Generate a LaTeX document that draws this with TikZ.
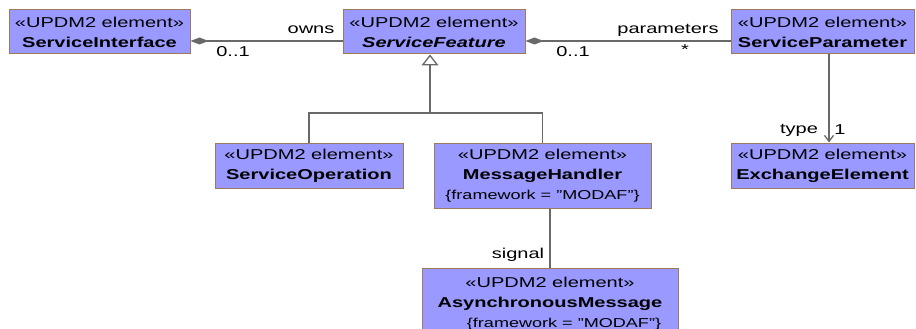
\documentclass[tikz,border=0pt]{standalone}
\usepackage{fontspec}
\setmainfont{Liberation Sans}[FakeStretch=1.4]
\usetikzlibrary{arrows.meta}
\definecolor{elemfill}{RGB}{153,153,255}
\definecolor{elemdraw}{RGB}{160,120,90}
\definecolor{linegray}{RGB}{105,105,105}

\begin{document}
\begin{tikzpicture}[x=1pt,y=-1pt,
  elem/.style={draw=elemdraw,fill=elemfill,line width=1pt,
    align=center,inner sep=0pt,font=\fontsize{14.3}{20}\selectfont},
  conn/.style={draw=linegray,line width=1.3pt},
  composite/.style={conn,-{Diamond[length=18pt,width=7pt,fill=linegray]}},
  generalize/.style={conn,-{Triangle[open,length=11pt,width=17pt,fill=white]}},
  navigable/.style={conn,-{Straight Barb[length=6pt,width=9pt]}},
  lbl/.style={font=\fontsize{14.3}{16}\selectfont,inner sep=0pt}]

\useasboundingbox (0,0) rectangle (916,329);

\node[elem,minimum width=181pt,minimum height=44pt] (si) at (99.5,32)
  {«UPDM2 element»\\\textbf{ServiceInterface}};
\node[elem,minimum width=182pt,minimum height=44pt] (sf) at (434,32)
  {«UPDM2 element»\\\textbf{\itshape ServiceFeature}};
\node[elem,minimum width=183pt,minimum height=44pt] (sp) at (822.5,32)
  {«UPDM2 element»\\\textbf{ServiceParameter}};

\node[elem,minimum width=188pt,minimum height=45pt] (so) at (309,165.5)
  {«UPDM2 element»\\\textbf{ServiceOperation}};
\node[elem,minimum width=217pt,minimum height=65pt] (mh) at (542.5,175.5)
  {«UPDM2 element»\\\textbf{MessageHandler}\\
   {\fontsize{12.9}{20}\selectfont\{framework = "MODAF"\}}};
\node[elem,minimum width=183pt,minimum height=45pt] (ee) at (822.5,165.5)
  {«UPDM2 element»\\\textbf{ExchangeElement}};

\node[elem,minimum width=256pt,minimum height=72pt] (am) at (550,304)
  {«UPDM2 element»\\\textbf{AsynchronousMessage}\\
   \hspace*{28pt}{\fontsize{12.9}{20}\selectfont\{framework = "MODAF"\}}};

\coordinate (gen) at (430,113);

\draw[composite] ([yshift=-9pt]sf.west) -- ([yshift=-9pt]si.east);
\draw[composite] ([yshift=-9pt]sp.west) -- ([yshift=-9pt]sf.east);
\draw[generalize] (gen) -- (gen |- sf.south);
\draw[conn] (so.north) |- (gen) -| (mh.north);
\draw[navigable] ([xshift=6.5pt]sp.south) -- ([xshift=6.5pt]ee.north);
\draw[conn] (am.north |- mh.south) -- (am.north);

\node[lbl] (owns) at (311,30) {owns};
\node[lbl] (ownsmult) at (233,52) {0..1};
\node[lbl] (parmult) at (573,52) {0..1};
\node[lbl] (params) at (668,30) {parameters};
\node[lbl] (parstar) at (685,50) {*};
\node[lbl] (typelbl) at (799,130) {type};
\node[lbl] (typemult) at (840,130) {1};
\node[lbl] (signal) at (518,255) {signal};
\end{tikzpicture}
\end{document}
